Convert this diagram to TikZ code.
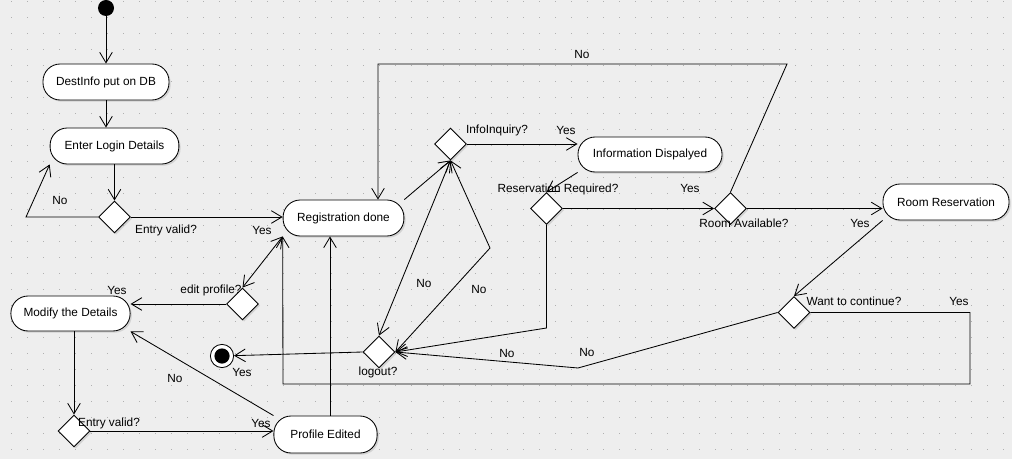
\documentclass[tikz,border=0pt]{standalone}
\usepackage{fontspec}
\setmainfont{Liberation Sans}
\usepackage{tikz}
\usetikzlibrary{arrows.meta,calc,positioning,shapes.geometric,shadows}
\definecolor{canvas}{HTML}{EEEEEE}
\definecolor{griddot}{HTML}{B0B0B0}

\begin{document}
\begin{tikzpicture}[x=0.025cm,y=-0.025cm,>={Straight Barb[length=7.5pt,width=9pt]},line width=0.6pt,
		every node/.style={font=\fontsize{8.4}{10}\selectfont},
		actbox/.style={draw,fill=white,rounded corners=0.43cm,minimum height=0.9cm,inner sep=2pt,
			drop shadow={shadow xshift=1.2pt,shadow yshift=-1.2pt,opacity=0.25}},
		decision/.style={diamond,draw,fill=white,minimum width=0.8cm,minimum height=0.8cm,inner sep=0pt,
			drop shadow={shadow xshift=1.2pt,shadow yshift=-1.2pt,opacity=0.25}},
		startdot/.style={circle,fill=black,minimum size=0.4cm,inner sep=0pt},
		enddot/.style={circle,draw,fill=white,minimum size=0.58cm,inner sep=0pt,
			path picture={\fill[black] (path picture bounding box.center) circle (0.19cm);}},
		lbl/.style={inner sep=0pt}]
	% canvas with dotted grid
	\useasboundingbox (0,0) rectangle (1012,459);
	\fill[canvas] (0,0) rectangle (1012,459);
	\foreach \i in {0,...,62}
		\foreach \j in {0,...,28}
			\fill[griddot] (11+16*\i,1+16*\j) rectangle ++(1,1);

	% activities and decisions
	\node[startdot] (start) at (106,8) {};
	\node[actbox,minimum width=3.15cm] (dest) at (106,82) {DestInfo put on DB};
	\node[actbox,minimum width=3.22cm] (login) at (114.5,146) {Enter Login Details};
	\node[decision] (ev_1) at (114.5,217) {};
	\node[actbox,minimum width=3.02cm] (reg) at (343.5,218) {Registration done};
	\node[decision] (iq) at (450.5,144) {};
	\node[actbox,minimum width=3.6cm,minimum height=0.875cm] (info) at (650,154.5) {Information Dispalyed};
	\node[decision] (rr) at (546.5,208.5) {};
	\node[decision] (ra) at (730.5,208.5) {};
	\node[actbox,minimum width=3.15cm] (room) at (946,202) {Room Reservation};
	\node[decision] (wc) at (794,312.5) {};
	\node[decision] (lo) at (379,352) {};
	\node[enddot] (end) at (222,356) {};
	\node[decision] (ep) at (242.5,304) {};
	\node[actbox,minimum width=2.98cm,minimum height=0.875cm] (mod) at (70.5,313.5) {Modify the Details};
	\node[decision] (ev_2) at (74,431) {};
	\node[actbox,minimum width=2.58cm,minimum height=0.925cm] (pe) at (325.5,434.5) {Profile Edited};

	% bends
	\coordinate (loopL) at (26,217);
	\coordinate (topR) at (787,64);
	\coordinate (topL) at (378,64);
	\coordinate (loopBR) at (970,384);
	\coordinate (loopBL) at (283,384);
	\coordinate (kneeW) at (578,368);
	\coordinate (kneeR) at (547,328);
	\coordinate (kneeI) at (490,248);
	\coordinate (peUp) at (330,416);

	% transitions
	\path[->]
		(start) edge (start |- dest.north)
		(dest.south) edge (dest.south |- login.north)
		(login) edge (ev_1)
		(ev_1.east) edge (ev_1.east -| reg.west)
		(reg.north east) edge (iq.south)
		(iq.east) edge (iq.east -| info.west)
		(info.south west) edge (rr.north)
		(rr.east) edge (ra.west)
		(ra.east) edge (ra.east -| room.west)
		(room.south west) edge (wc.north)
		(lo.west) edge (end)
		(ep.west) edge (ep.west -| mod.east)
		(ev_2.east) edge (ev_2.east -| pe.west)
		(pe.north west) edge (mod.south east)
		(peUp) edge (peUp |- reg.south);
	\path[<->]
		(lo.north) edge (iq.south)
		(reg.south west) edge (ep.north);
	\draw[->] (ev_1.west) -- (loopL) -- (login.south west);
	\draw[->] (ra.north) -- (topR) -- (topL) -- (topL |- reg.north);
	\draw[->] (wc.east) -- (wc.east -| loopBR) -- (loopBR) -- (loopBL) -- (reg.south west);
	\draw[->] (wc.west) -- (kneeW) -- (lo.east);
	\draw[->] (rr.south) -- (rr.south |- kneeR) -- (lo.east);
	\draw[<->] (iq.south) -- (kneeI) -- (lo.east);
	\draw[->] (ev_2.north |- mod.south) -- (ev_2.north);

	% guards
	\node[lbl] (t_1) at (60,200) {No};
	\node[lbl] (t_2) at (166,230) {Entry valid?};
	\node[lbl] (t_3) at (262,230) {Yes};
	\node[lbl] (t_4) at (497,130) {InfoInquiry?};
	\node[lbl] (t_5) at (566,130) {Yes};
	\node[lbl] (t_6) at (582,54) {No};
	\node[lbl] (t_7) at (558,189) {Reservation Required?};
	\node[lbl] (t_8) at (690,188) {Yes};
	\node[lbl] (t_9) at (744,223) {Room Available?};
	\node[lbl] (t_10) at (860,223) {Yes};
	\node[lbl] (t_11) at (854,301) {Want to continue?};
	\node[lbl] (t_12) at (959,301) {Yes};
	\node[lbl] (t_13) at (507,353) {No};
	\node[lbl] (t_14) at (587,352) {No};
	\node[lbl] (t_15) at (424,283) {No};
	\node[lbl] (t_16) at (479,289) {No};
	\node[lbl] (t_17) at (378,372) {logout?};
	\node[lbl] (t_18) at (211,290) {edit profile?};
	\node[lbl] (t_19) at (117,290) {Yes};
	\node[lbl] (t_20) at (242,372) {Yes};
	\node[lbl] (t_21) at (175,378) {No};
	\node[lbl] (t_22) at (109,423) {Entry valid?};
	\node[lbl] (t_23) at (261,423) {Yes};
\end{tikzpicture}
\end{document}
